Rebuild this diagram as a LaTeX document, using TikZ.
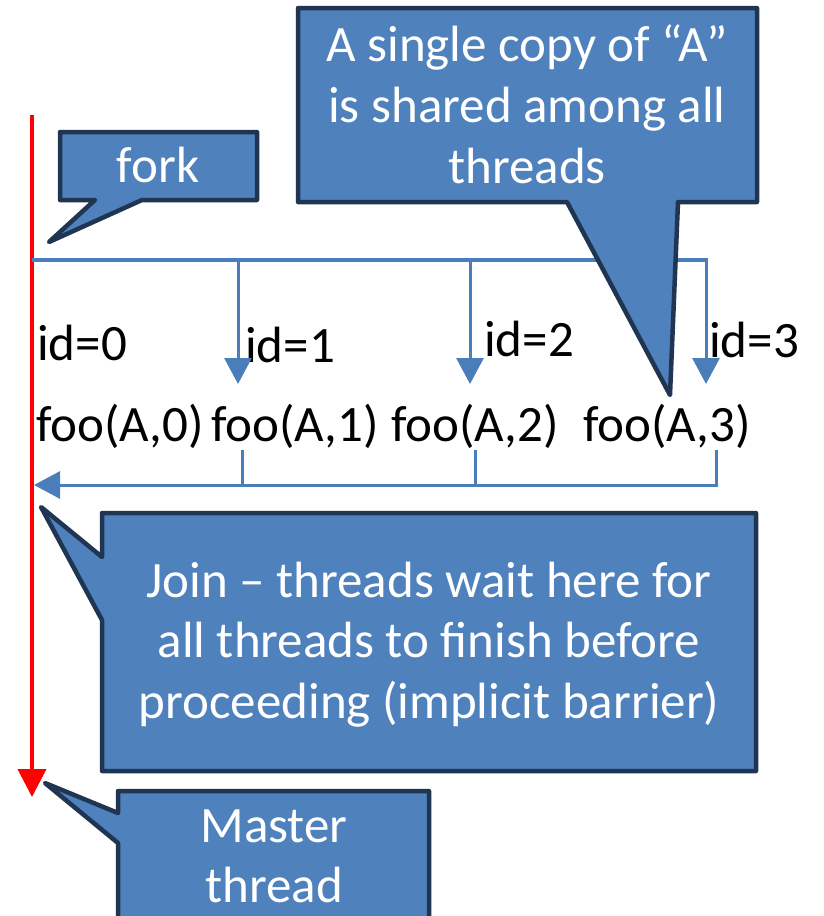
\documentclass[tikz,border=0pt]{standalone}
\usepackage{fontspec}
\setmainfont{Carlito}
\usetikzlibrary{arrows.meta}
\definecolor{cfill}{HTML}{4F81BD}
\definecolor{cedge}{HTML}{1F3552}
\definecolor{cline}{HTML}{4A7EBB}
\begin{document}
\begin{tikzpicture}[x=1pt,y=-1pt,
  callout/.style={fill=cfill,draw=cedge,line width=4.5pt,line join=round},
  ctext/.style={text=white,font=\fontsize{51}{61}\selectfont,inner sep=0pt,anchor=base},
  btext/.style={text=black,font=\fontsize{51}{61}\selectfont,inner sep=0pt,anchor=base west},
  flow/.style={draw=cline,line width=3pt},
  flowarrow/.style={flow,-{Triangle[length=26pt,width=27pt]}},
  master/.style={draw=red,line width=4pt,-{Triangle[length=28pt,width=28pt]}},
]
\clip (0,0) rectangle (823,916);
\useasboundingbox (0,0) rectangle (823,916);

% coordinates
\coordinate (mtop) at (32,115);
\coordinate (mbot) at (32,797);
\coordinate (fl) at (32,260);
\coordinate (fr) at (708,260);
\coordinate (fk1) at (238,260);
\coordinate (fk2) at (470,260);
\coordinate (fk3) at (706,260);
\coordinate (fe1) at (238,384);
\coordinate (fe2) at (470,384);
\coordinate (fe3) at (706,384);
\coordinate (js1) at (242,450);
\coordinate (js2) at (475,450);
\coordinate (js3) at (716,450);
\coordinate (jb1) at (242,485);
\coordinate (jb2) at (475,485);
\coordinate (jb3) at (716,485);
\coordinate (jend) at (34,485);

% labels
\node[btext] (i0) at (37,360) {id=0};
\node[btext] (i1) at (245,362) {id=1};
\node[btext] (i2) at (484,356) {id=2};
\node[btext] (i3) at (709,357) {id=3};
\node[btext] (f0) at (36,441) {foo(A,0)};
\node[btext] (f1) at (211,441) {foo(A,1)};
\node[btext] (f2) at (391,441) {foo(A,2)};
\node[btext] (f3) at (583,441) {foo(A,3)};

% master thread
\draw[master] (mtop) -- (mbot);

% fork
\draw[draw=cline,line width=4pt] (fl) -- (fr);
\draw[flowarrow] (fk1) -- (fe1);
\draw[flowarrow] (fk2) -- (fe2);
\draw[flowarrow] (fk3) -- (fe3);

% join
\draw[flow] (js1) -- (jb1);
\draw[flow] (js2) -- (jb2);
\draw[flowarrow] (js3) -- (jb3) -- (jend);

% callouts
\draw[callout] (60,132) -- (257,132) -- (257,200) -- (142,200) -- (49,242) -- (95,200) -- (60,200) -- cycle;
\node[ctext] (fork) at (158,182) {fork};

\draw[callout] (298,8) -- (757,8) -- (757,202) -- (678,202) -- (670,395) -- (567,202) -- (298,202) -- cycle;
\node[ctext] (a1) at (527,61) {A single copy of “A”};
\node[ctext] (a2) at (527,122) {is shared among all};
\node[ctext] (a3) at (527,183) {threads};

\draw[callout] (102,513) -- (756,513) -- (756,771) -- (102,771) -- (102,620) -- (41,507) -- (102,557) -- cycle;
\node[ctext] (j1) at (429,597) {Join – threads wait here for};
\node[ctext] (j2) at (429,657) {all threads to finish before};
\node[ctext] (j3) at (429,718) {proceeding (implicit barrier)};

\draw[callout] (118,791) -- (429,791) -- (429,945) -- (118,945) -- (118,843) -- (45,783) -- (118,813) -- cycle;
\node[ctext] (m1) at (274,842) {Master};
\node[ctext] (m2) at (274,902) {thread};
\end{tikzpicture}
\end{document}
